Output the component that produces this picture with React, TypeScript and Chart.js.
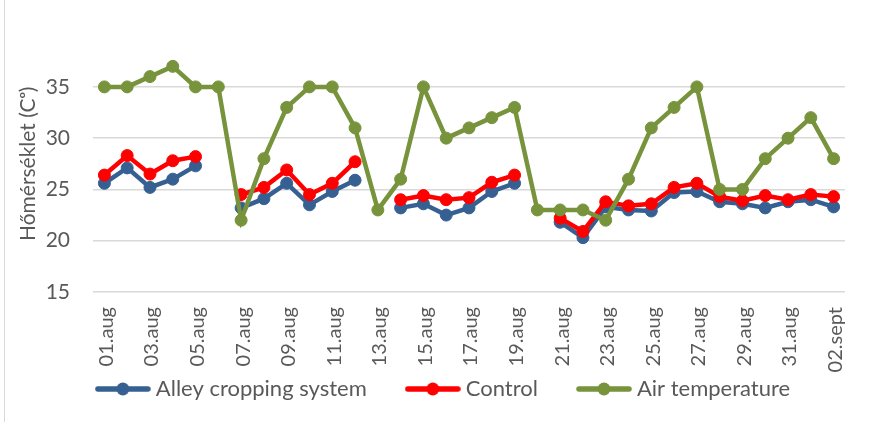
import React, { useEffect, useRef } from "react";
import { Chart, registerables } from "chart.js";

Chart.register(...registerables);

const categories = [
  "01.aug", "02.aug", "03.aug", "04.aug", "05.aug", "06.aug", "07.aug", "08.aug", "09.aug", "10.aug",
  "11.aug", "12.aug", "13.aug", "14.aug", "15.aug", "16.aug", "17.aug", "18.aug", "19.aug", "20.aug",
  "21.aug", "22.aug", "23.aug", "24.aug", "25.aug", "26.aug", "27.aug", "28.aug", "29.aug", "30.aug",
  "31.aug", "01.sept", "02.sept",
];

const alleyCropping = [
  25.6, 27.1, 25.2, 26.0, 27.3, null, 23.2, 24.1, 25.6, 23.5, 24.8, 25.9, null, 23.2, 23.6, 22.5, 23.2,
  24.8, 25.6, null, 21.8, 20.3, 23.3, 23.0, 22.9, 24.7, 24.8, 23.8, 23.6, 23.2, 23.8, 24.0, 23.3,
];

const control = [
  26.4, 28.3, 26.5, 27.8, 28.2, null, 24.5, 25.2, 26.9, 24.5, 25.6, 27.7, null, 24.0, 24.4, 24.0, 24.2,
  25.7, 26.4, null, 22.2, 20.9, 23.8, 23.4, 23.6, 25.2, 25.6, 24.3, 23.9, 24.4, 24.0, 24.5, 24.3,
];

const airTemperature = [
  35, 35, 36, 37, 35, 35, 22, 28, 33, 35, 35, 31, 23, 26, 35, 30, 31, 32, 33, 23, 23, 23, 22, 26, 31, 33,
  35, 25, 25, 28, 30, 32, 28,
];

const seriesNames = ["Alley cropping system", "Control", "Air temperature"];
const seriesColors = ["#376092", "#FF0000", "#77933C"];

const yMin = 15;
const yMax = 40;
const yStep = 5;

function makeLegendMarker(color: string): HTMLCanvasElement {
  const c = document.createElement("canvas");
  c.width = 56;
  c.height = 14;
  const ctx = c.getContext("2d")!;
  ctx.strokeStyle = color;
  ctx.lineWidth = 5.5;
  ctx.lineCap = "round";
  ctx.beginPath();
  ctx.moveTo(3, 7);
  ctx.lineTo(53, 7);
  ctx.stroke();
  ctx.fillStyle = color;
  ctx.beginPath();
  ctx.arc(28, 7, 6.5, 0, Math.PI * 2);
  ctx.fill();
  return c;
}

const LEGEND_ROW_CENTER = 389;
const LEGEND_SHIFT_X = 17;

const legendPlace = {
  id: "legendPlace",
  afterLayout(chart: any) {
    const lg = chart.legend;
    if (lg) {
      const pad = lg.options.labels.padding;
      const fs = lg.options.labels.font.size;
      lg.left += LEGEND_SHIFT_X;
      lg.right += LEGEND_SHIFT_X;
      lg.top = LEGEND_ROW_CENTER - fs / 2 - pad;
      lg.bottom = chart.height;
      lg.height = lg.bottom - lg.top;
    }
  },
};

export default function App() {
  const ref = useRef<HTMLCanvasElement | null>(null);

  useEffect(() => {
    if (!ref.current) return;
    const markers = seriesColors.map(makeLegendMarker);
    const textColor = "#595959";
    const mk = (i: number, data: (number | null)[], order: number) => ({
      label: seriesNames[i],
      data,
      borderColor: seriesColors[i],
      backgroundColor: seriesColors[i],
      pointBackgroundColor: seriesColors[i],
      pointBorderColor: seriesColors[i],
      borderWidth: 4.5,
      pointRadius: 6,
      pointBorderWidth: 1,
      spanGaps: false,
      tension: 0,
      order,
    });
    const chart = new Chart(ref.current, {
      type: "line",
      data: {
        labels: categories,
        datasets: [mk(0, alleyCropping, 3), mk(1, control, 2), mk(2, airTemperature, 1)],
      },
      plugins: [legendPlace],
      options: {
        animation: false,
        responsive: false,
        maintainAspectRatio: false,
        layout: { padding: { left: 12, right: 25, top: 0, bottom: 10 } },
        plugins: {
          tooltip: { enabled: false },
          legend: {
            position: "bottom",
            maxHeight: 30,
            labels: {
              usePointStyle: true,
              pointStyleWidth: 44,
              padding: 44,
              color: textColor,
              font: { family: "Lato", size: 22 },
              sort: (a: any, b: any) => a.datasetIndex - b.datasetIndex,
              generateLabels: (ch: any) =>
                ch.data.datasets.map((ds: any, i: number) => ({
                  text: ds.label,
                  fillStyle: ds.borderColor,
                  strokeStyle: ds.borderColor,
                  fontColor: textColor,
                  lineWidth: 0,
                  pointStyle: markers[i],
                  datasetIndex: i,
                  hidden: false,
                })),
            },
          },
        },
        scales: {
          x: {
            type: "category",
            offset: true,
            grid: { display: false, drawTicks: true, tickLength: 3, color: "rgba(0,0,0,0)" },
            border: { display: false },
            ticks: {
              autoSkip: false,
              maxRotation: 90,
              minRotation: 90,
              padding: 12,
              labelOffset: 2,
              color: textColor,
              font: { family: "Lato", size: 20 },
              callback: function (this: any, value: any, index: number) {
                return index % 2 === 0 ? this.getLabelForValue(value) : "";
              },
            },
            afterFit: (s: any) => {
              s.height = 90;
            },
          },
          y: {
            min: yMin,
            max: yMax,
            grid: {
              drawTicks: false,
              color: (ctx: any) => (ctx.tick && ctx.tick.value === yMax ? "rgba(0,0,0,0)" : "#d9d9d9"),
              lineWidth: 1.5,
            },
            border: { display: false },
            ticks: {
              stepSize: yStep,
              padding: 23,
              color: textColor,
              font: { family: "Lato", size: 21 },
              callback: (v: any) => (v === yMax ? "" : String(v)),
            },
            title: {
              display: true,
              text: "Hőmérséklet (Cᵒ)",
              color: textColor,
              font: { family: "Lato", size: 21 },
              padding: { top: 4, bottom: 0 },
            },
            afterFit: (s: any) => {
              s.width = 81;
            },
          },
        },
      },
    } as any);
    return () => chart.destroy();
  }, []);

  return (
    <div style={{ position: "fixed", left: 0, top: 0, width: 870, height: 422, background: "#ffffff" }}>
      <div style={{ position: "absolute", left: 4, top: 0, width: 1, height: 422, background: "#d9d9d9" }} />
      <canvas ref={ref} width={870} height={422} style={{ position: "absolute", left: 0, top: 0 }} />
    </div>
  );
}
